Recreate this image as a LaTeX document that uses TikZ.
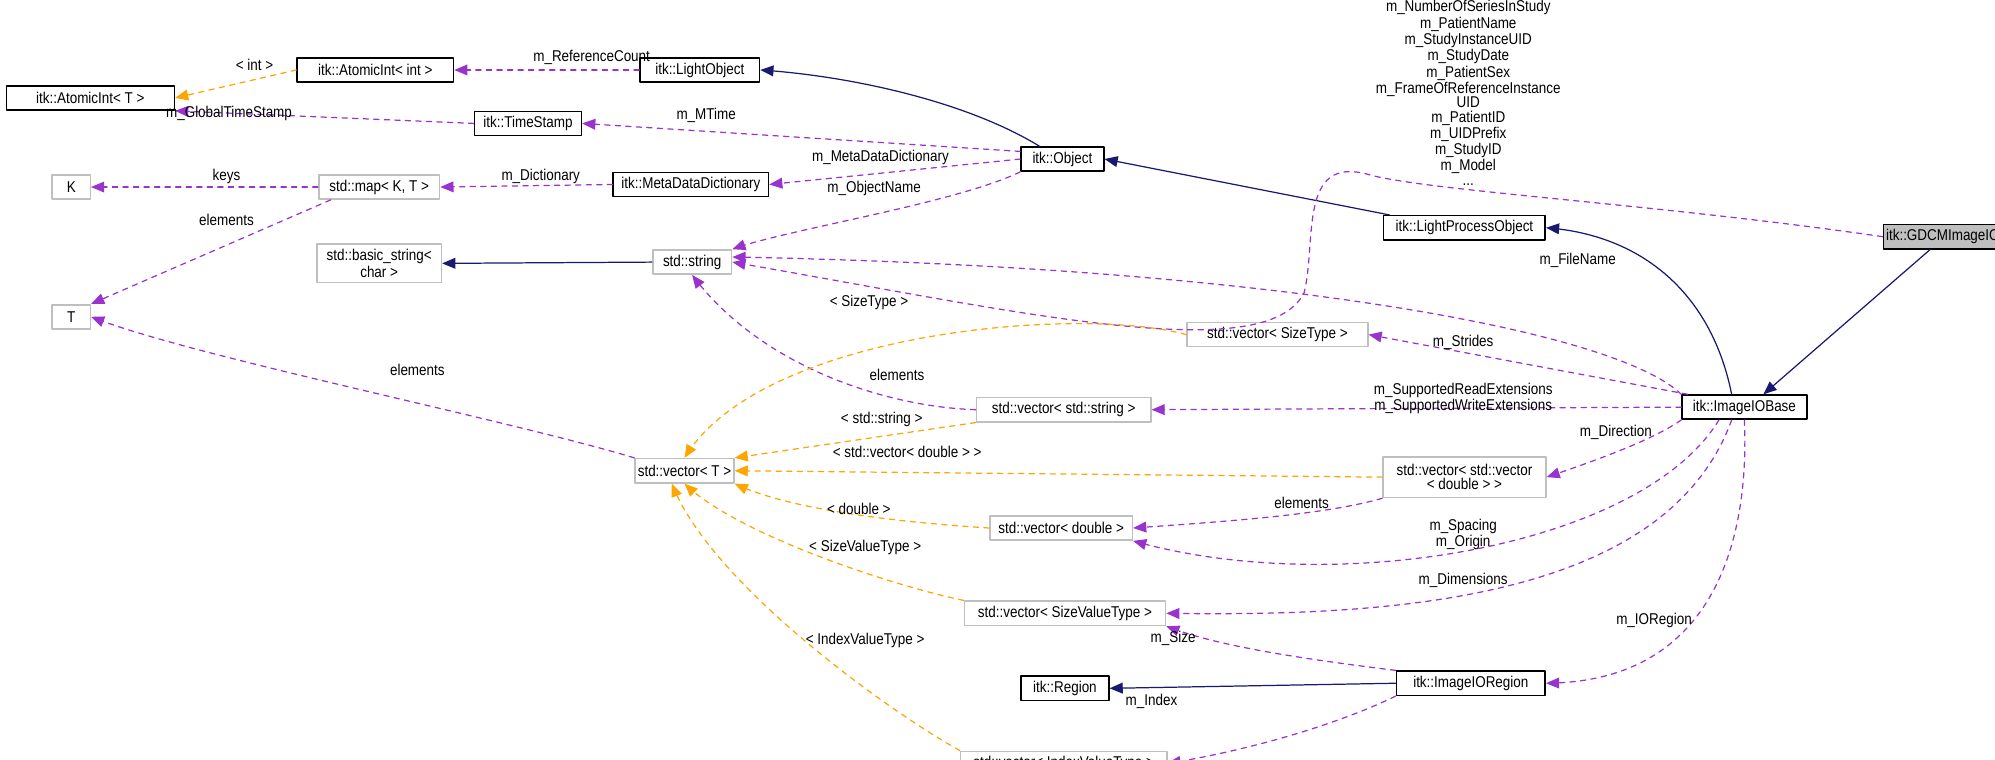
\documentclass[tikz,border=0pt]{standalone}
\usepackage{fontspec}
\setmainfont{Liberation Sans}[FakeStretch=0.86]
\usepackage{tikz}
\usetikzlibrary{arrows,calc}
\definecolor{memb}{HTML}{9A32CD}
\definecolor{tmpl}{HTML}{FFA500}
\definecolor{inh}{HTML}{191970}
\newcommand{\px}{0.02545cm}
\tikzset{
  cls/.style={draw=black,line width=0.9pt,fill=white,inner sep=1.5pt,minimum height=19*\px,font=\fontsize{8.9}{8.2}\selectfont,align=center},
  ext/.style={cls,draw=black!25},
  subj/.style={cls,fill=black!25},
  usage/.style={->,memb,dashed,line width=0.7pt},
  inst/.style={->,tmpl,dashed,line width=0.7pt},
  base/.style={->,inh,line width=0.7pt},
  lbl/.style={font=\fontsize{8.9}{8.2}\selectfont,align=center,inner sep=0pt}
}
\begin{document}
\begin{tikzpicture}[line cap=round,line join=round,>=triangle 45,x=\px,y=-\px]
\useasboundingbox (0,0) rectangle (1568,597);
% classes
\node[cls,minimum width=132*\px] (atomT) at (71,77) {itk::AtomicInt< T >};
\node[cls,minimum width=123*\px] (atomInt) at (295,55) {itk::AtomicInt< int >};
\node[cls,minimum width=94*\px] (lightObj) at (550,55) {itk::LightObject};
\node[cls,minimum width=84*\px] (timeStamp) at (415,97) {itk::TimeStamp};
\node[ext,minimum width=30*\px] (K) at (56,147) {K};
\node[ext,minimum width=95*\px] (mapKT) at (298,147) {std::map< K, T >};
\node[cls,minimum width=122*\px] (metaDict) at (543,145) {itk::MetaDataDictionary};
\node[cls,minimum width=65*\px] (object) at (835,125) {itk::Object};
\node[ext,minimum width=98*\px,minimum height=30*\px] (basicStr) at (298,207) {std::basic\_string<\\char >};
\node[ext,minimum width=62*\px] (str) at (544,206) {std::string};
\node[ext,minimum width=30*\px] (T) at (56,249) {T};
\node[cls,minimum width=127*\px] (lightProc) at (1151,179) {itk::LightProcessObject};
\node[subj,minimum width=75*\px] (gdcm) at (1527,186) {itk::GDCMImageIO};
\node[ext,minimum width=142*\px] (vecSizeT) at (1004,263) {std::vector< SizeType >};
\node[ext,minimum width=137*\px] (vecStr) at (836,322) {std::vector< std::string >};
\node[cls,minimum width=98*\px] (ioBase) at (1371,320) {itk::ImageIOBase};
\node[ext,minimum width=75*\px] (vecT) at (538,370) {std::vector< T >};
\node[ext,minimum width=128*\px,minimum height=32*\px] (vecVec) at (1151,375) {std::vector< std::vector\\< double > >};
\node[ext,minimum width=112*\px] (vecDbl) at (834,415) {std::vector< double >};
\node[ext,minimum width=158*\px] (vecSizeV) at (837,482) {std::vector< SizeValueType >};
\node[cls,minimum width=69*\px] (region) at (837,541) {itk::Region};
\node[cls,minimum width=117*\px] (ioRegion) at (1156,537) {itk::ImageIORegion};
\node[ext,minimum width=162*\px] (vecIdxV) at (836,600) {std::vector< IndexValueType >};
% inheritance
\draw[base] (object.north west) ++(15,0) .. controls (760,80) and (670,60) .. (lightObj.east);
\draw[base] (lightProc.north west) ++(5,0) -- (object.east);
\draw[base] (ioBase.north) ++(-10,0) .. controls (1345,230) and (1290,185) .. (lightProc.east);
\draw[base] (gdcm.south) ++(-10,0) -- ($(ioBase.north)+(15,0)$);
\draw[base] (str.west) -- (basicStr.east);
\draw[base] (ioRegion.west) -- (region.east);
% members
\draw[usage] (lightObj.west) -- (atomInt.east);
\node[lbl] (lRef) at (465,45) {m\_ReferenceCount};
\draw[usage] (timeStamp.west) -- (atomT.south east);
\node[lbl] (lGlob) at (180,89) {m\_GlobalTimeStamp};
\draw[usage] (object.west) ++(0,-6) -- (timeStamp.east);
\node[lbl] (lMTime) at (555,91) {m\_MTime};
\draw[usage] (object.west) -- (metaDict.east);
\node[lbl] (lMeta) at (692,124) {m\_MetaDataDictionary};
\draw[usage] (object.south west) .. controls (750,160) and (620,180) .. (str.north east);
\node[lbl] (lObjName) at (687,148) {m\_ObjectName};
\draw[usage] (metaDict.west) -- (mapKT.east);
\node[lbl] (lDict) at (425,139) {m\_Dictionary};
\draw[usage] (mapKT.west) -- (K.east);
\node[lbl] (lKeys) at (178,139) {keys};
\draw[usage] (mapKT.south west) ++(10,0) -- (T.north east);
\node[lbl] (lElemMap) at (178,173) {elements};
\draw[usage] (vecT.north west) .. controls (400,330) and (150,280) .. (T.east);
\node[lbl] (lElemT) at (328,291) {elements};
\draw[usage] (gdcm.west) .. controls (1300,160) and (1120,150) .. (1075,137) .. controls (1020,122) and (1035,190) .. (1025,230) .. controls (995,290) and (800,245) .. (str.east);
\node[lbl] (lGdcm) at (1154,73) {m\_NumberOfSeriesInStudy\\m\_PatientName\\m\_StudyInstanceUID\\m\_StudyDate\\m\_PatientSex\\m\_FrameOfReferenceInstance\\UID\\m\_PatientID\\m\_UIDPrefix\\m\_StudyID\\m\_Model\\...};
\draw[usage] (ioBase.north west) .. controls (1270,260) and (1000,210) .. ($(str.east)+(0,-4)$);
\node[lbl] (lFile) at (1240,205) {m\_FileName};
\draw[usage] (ioBase.north west) ++(5,0) -- (vecSizeT.east);
\node[lbl] (lStrides) at (1150,269) {m\_Strides};
\draw[usage] (ioBase.west) -- (vecStr.east);
\node[lbl] (lExt) at (1150,313) {m\_SupportedReadExtensions\\m\_SupportedWriteExtensions};
\draw[usage] (ioBase.south west) .. controls (1300,345) and (1260,360) .. (vecVec.east);
\node[lbl] (lDir) at (1270,340) {m\_Direction};
\draw[usage] (ioBase.south) ++(-20,0) .. controls (1290,430) and (1050,470) .. (vecDbl.south east);
\node[lbl] (lSpac) at (1150,420) {m\_Spacing\\m\_Origin};
\draw[usage] (ioBase.south) ++(-10,0) .. controls (1310,470) and (1100,485) .. (vecSizeV.east);
\node[lbl] (lDim) at (1150,456) {m\_Dimensions};
\draw[usage] (ioBase.south) .. controls (1375,420) and (1350,535) .. (ioRegion.east);
\node[lbl] (lIOReg) at (1300,488) {m\_IORegion};
\draw[usage] (ioRegion.north west) .. controls (1000,515) and (950,505) .. (vecSizeV.south east);
\node[lbl] (lSize) at (922,502) {m\_Size};
\draw[usage] (ioRegion.south west) .. controls (1050,570) and (980,590) .. (vecIdxV.east);
\node[lbl] (lIdx) at (905,551) {m\_Index};
\draw[usage] (vecStr.west) .. controls (700,320) and (600,290) .. (str.south);
\node[lbl] (lElemStr) at (705,295) {elements};
\draw[usage] (vecVec.south west) .. controls (1040,405) and (960,410) .. (vecDbl.east);
\node[lbl] (lElemDbl) at (1023,395) {elements};
% template instances
\draw[inst] (atomInt.west) -- (atomT.east);
\node[lbl] (lInt) at (200,51) {< int >};
\draw[inst] (vecSizeT.west) .. controls (850,240) and (600,260) .. (vecT.north);
\node[lbl] (lSizeT) at (683,238) {< SizeType >};
\draw[inst] (vecStr.south west) -- (vecT.north east);
\node[lbl] (lStdStr) at (693,330) {< std::string >};
\draw[inst] (vecVec.west) -- (vecT.east);
\node[lbl] (lVecDbl) at (713,355) {< std::vector< double > >};
\draw[inst] (vecDbl.west) .. controls (700,410) and (620,400) .. (vecT.south east);
\node[lbl] (lDbl) at (675,400) {< double >};
\draw[inst] (vecSizeV.north west) .. controls (700,460) and (580,420) .. (vecT.south);
\node[lbl] (lSizeV) at (680,430) {< SizeValueType >};
\draw[inst] (vecIdxV.north west) .. controls (700,560) and (560,460) .. ($(vecT.south)+(-10,0)$);
\node[lbl] (lIdxV) at (680,503) {< IndexValueType >};
\end{tikzpicture}
\end{document}
